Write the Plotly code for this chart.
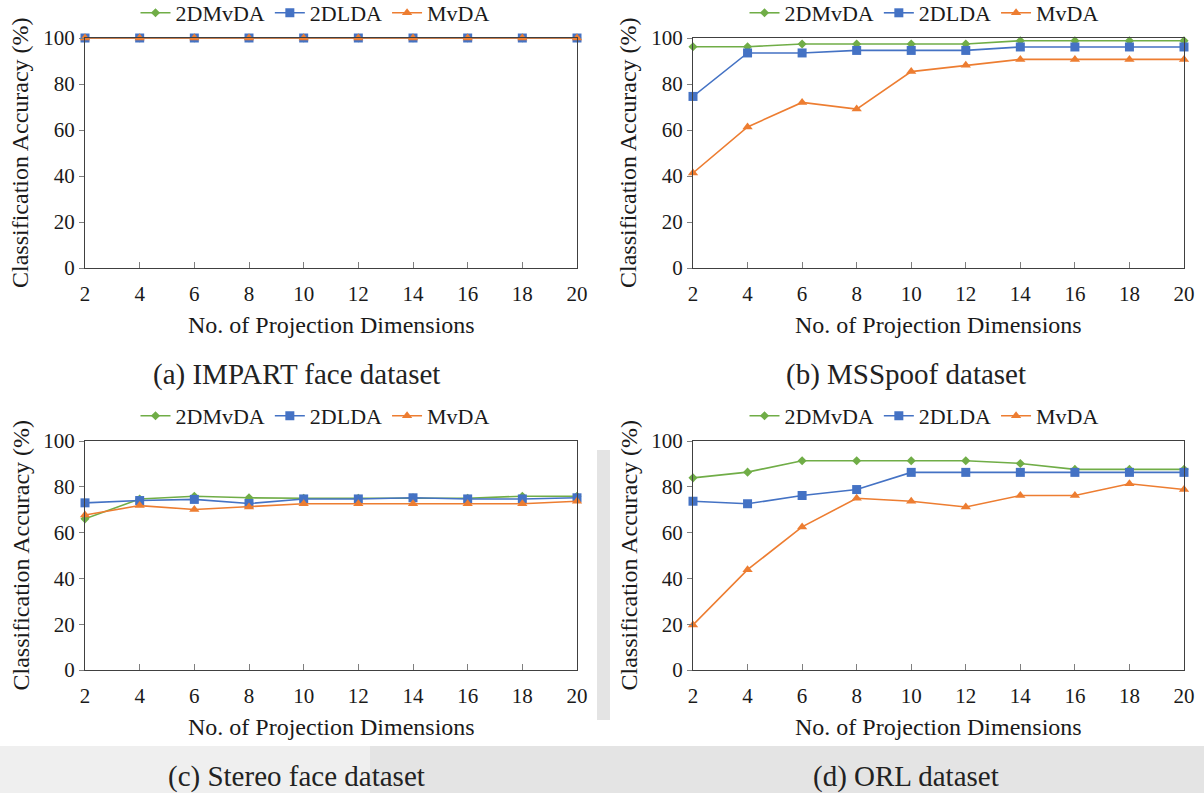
import plotly.graph_objects as go

# Projection dimensions (x axis)
dims = [2, 4, 6, 8, 10, 12, 14, 16, 18, 20]

# (a) IMPART face dataset
impart_2dmvda = [100, 100, 100, 100, 100, 100, 100, 100, 100, 100]
impart_2dlda = [100, 100, 100, 100, 100, 100, 100, 100, 100, 100]
impart_mvda = [100, 100, 100, 100, 100, 100, 100, 100, 100, 100]

# (b) MSSpoof dataset
msspoof_2dmvda = [96.2, 96.2, 97.4, 97.4, 97.4, 97.4, 98.8, 98.8, 98.8, 98.8]
msspoof_2dlda = [74.6, 93.5, 93.5, 94.6, 94.6, 94.6, 96.1, 96.1, 96.1, 96.1]
msspoof_mvda = [41.3, 61.3, 72.0, 69.1, 85.4, 88.1, 90.7, 90.7, 90.7, 90.7]

# (c) Stereo face dataset
stereo_2dmvda = [66.0, 74.7, 75.9, 75.2, 75.0, 75.0, 75.2, 75.0, 75.9, 75.9]
stereo_2dlda = [73.0, 74.0, 74.5, 72.7, 74.7, 74.7, 75.2, 74.7, 74.7, 75.2]
stereo_mvda = [67.7, 71.8, 70.1, 71.2, 72.6, 72.6, 72.6, 72.6, 72.6, 73.7]

# (d) ORL dataset
orl_2dmvda = [83.9, 86.4, 91.4, 91.4, 91.4, 91.4, 90.2, 87.6, 87.6, 87.6]
orl_2dlda = [73.7, 72.6, 76.2, 78.8, 86.3, 86.3, 86.3, 86.3, 86.3, 86.3]
orl_mvda = [19.7, 43.8, 62.5, 75.0, 73.7, 71.2, 76.2, 76.2, 81.3, 78.8]

series_names = ["2DMvDA", "2DLDA", "MvDA"]
captions = ["(a) IMPART face dataset", "(b) MSSpoof dataset",
            "(c) Stereo face dataset", "(d) ORL dataset"]

panels = [
    (impart_2dmvda, impart_2dlda, impart_mvda),
    (msspoof_2dmvda, msspoof_2dlda, msspoof_mvda),
    (stereo_2dmvda, stereo_2dlda, stereo_mvda),
    (orl_2dmvda, orl_2dlda, orl_mvda),
]

W, H = 1204, 793
SERIF = "'Liberation Serif', 'Times New Roman', Times, serif"
TEXT = "#1a1a1a"
AXIS = "#404040"

colors = ["#70AD47", "#4472C4", "#ED7D31"]
symbols = ["diamond", "square", "triangle-up"]
msizes = [7, 9, 9]

# pixel boxes for each plot area: (left, right, top, bottom)
boxes = [(85, 577, 38, 268), (693, 1184, 38, 268),
         (85, 577, 441, 670), (693, 1184, 441, 670)]


def px(x):
    return x / W


def py(y):
    return 1 - y / H


fig = go.Figure()
layout = dict(
    width=W, height=H,
    margin=dict(l=0, r=0, t=0, b=0, autoexpand=False),
    paper_bgcolor="white",
    plot_bgcolor="rgba(0,0,0,0)",
    showlegend=True,
    annotations=[],
    shapes=[],
)

legend_keys = ["legend", "legend2", "legend3", "legend4"]

for i, (vals, box) in enumerate(zip(panels, boxes)):
    n = "" if i == 0 else str(i + 1)
    l, r, t, b = box
    for j, ys in enumerate(vals):
        fig.add_trace(go.Scatter(
            x=dims, y=ys, name=series_names[j], mode="lines+markers",
            line=dict(color=colors[j], width=1.6),
            marker=dict(color=colors[j], symbol=symbols[j], size=msizes[j]),
            xaxis="x" + n, yaxis="y" + n, cliponaxis=False,
            legend=legend_keys[i],
        ))

    layout["xaxis" + n] = dict(
        domain=[px(l), px(r)], anchor="y" + n, range=[2, 20],
        tickmode="array", tickvals=dims, ticks="inside", ticklen=6,
        tickcolor="#7f7f7f", tickwidth=1, automargin=False,
        showline=True, linecolor=AXIS, linewidth=1, mirror=True,
        showgrid=False, zeroline=False, fixedrange=True,
        tickfont=dict(family=SERIF, size=21, color=TEXT),
        ticklabelstandoff=7,
    )
    layout["yaxis" + n] = dict(
        domain=[py(b), py(t)], anchor="x" + n, range=[0, 100],
        tickmode="linear", tick0=0, dtick=20, ticks="outside", ticklen=5,
        tickcolor="#7f7f7f", tickwidth=1, automargin=False,
        showline=True, linecolor=AXIS, linewidth=1, mirror=True,
        showgrid=False, zeroline=False, fixedrange=True,
        tickfont=dict(family=SERIF, size=21, color=TEXT),
    )

    cx = (l + r) / 2
    # axis titles
    layout["annotations"].append(dict(
        text="No. of Projection Dimensions", xref="paper", yref="paper",
        x=px(cx), y=py(b + 57), xanchor="center", yanchor="middle",
        showarrow=False, font=dict(family=SERIF, size=24, color=TEXT)))
    layout["annotations"].append(dict(
        text="Classification Accuracy (%)", xref="paper", yref="paper",
        x=px(l - 65), y=py((t + b) / 2), xanchor="center", yanchor="middle",
        textangle=-90, showarrow=False,
        font=dict(family=SERIF, size=24, color=TEXT)))
    # caption
    layout["annotations"].append(dict(
        text=captions[i], xref="paper", yref="paper",
        x=px(296 if i % 2 == 0 else 906), y=py(374 if i < 2 else 776),
        xanchor="center", yanchor="middle", showarrow=False,
        font=dict(family=SERIF, size=29, color="#222222")))
    # legend
    layout[legend_keys[i]] = dict(
        orientation="h", xanchor="center", yanchor="middle",
        x=px(315 if i % 2 == 0 else 924), y=py(13 if i < 2 else 416),
        font=dict(family=SERIF, size=22, color=TEXT),
        bgcolor="rgba(0,0,0,0)", itemwidth=30, tracegroupgap=0,
        itemclick=False, itemdoubleclick=False,
    )

# faint background band behind the lower captions and between the lower panels
layout["shapes"] += [
    dict(type="rect", xref="paper", yref="paper", layer="below",
         x0=0, x1=1, y0=py(793), y1=py(746),
         fillcolor="#e4e4e4", line=dict(width=0)),
    dict(type="rect", xref="paper", yref="paper", layer="below",
         x0=0, x1=px(370), y0=py(793), y1=py(746),
         fillcolor="#efefef", line=dict(width=0)),
    dict(type="rect", xref="paper", yref="paper", layer="below",
         x0=px(597), x1=px(610), y0=py(720), y1=py(450),
         fillcolor="#e4e4e4", line=dict(width=0)),
]

fig.update_layout(**layout)
fig.write_html("out.html")
